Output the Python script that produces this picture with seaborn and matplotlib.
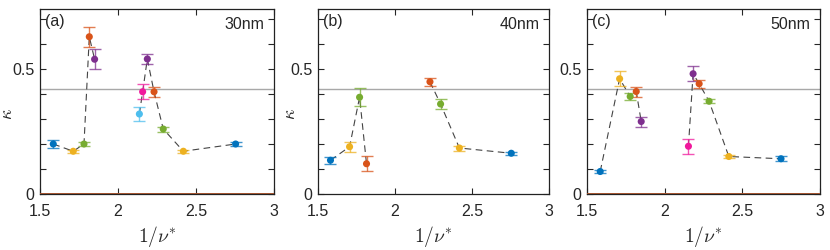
import numpy as np
import pandas as pd
import matplotlib
matplotlib.use("Agg")
import matplotlib.pyplot as plt
import seaborn as sns

# panel (a) 30nm
x_a = [1.585, 1.713, 1.782, 1.816, 1.85, 2.137, 2.158, 2.188, 2.231, 2.29, 2.419, 2.754]
k_a = [0.20, 0.171, 0.20, 0.629, 0.539, 0.32, 0.409, 0.54, 0.409, 0.26, 0.171, 0.20]
e_a = [0.015, 0.007, 0.007, 0.04, 0.04, 0.03, 0.03, 0.02, 0.02, 0.01, 0.007, 0.008]
cat_a = ["s1", "s3", "s5", "s2", "s4", "s6", "s7", "s4", "s2", "s5", "s3", "s1"]
grp_a = [0, 0, 0, 0, 0, 1, 1, 1, 1, 1, 1, 1]

# panel (b) 40nm
x_b = [1.581, 1.705, 1.77, 1.815, 2.227, 2.296, 2.418, 2.755]
k_b = [0.135, 0.189, 0.387, 0.121, 0.449, 0.36, 0.184, 0.163]
e_b = [0.015, 0.02, 0.035, 0.03, 0.015, 0.02, 0.01, 0.006]
cat_b = ["s1", "s3", "s5", "s2", "s2", "s5", "s3", "s1"]
grp_b = [0, 0, 0, 0, 1, 1, 1, 1]

# panel (c) 50nm
x_c = [1.585, 1.71, 1.778, 1.817, 1.849, 2.153, 2.183, 2.222, 2.286, 2.413, 2.749]
k_c = [0.09, 0.461, 0.39, 0.41, 0.29, 0.191, 0.481, 0.441, 0.371, 0.15, 0.141]
e_c = [0.006, 0.03, 0.015, 0.02, 0.02, 0.03, 0.03, 0.015, 0.008, 0.006, 0.01]
cat_c = ["s1", "s3", "s5", "s2", "s4", "s7", "s4", "s2", "s5", "s3", "s1"]
grp_c = [0, 0, 0, 0, 0, 1, 1, 1, 1, 1, 1]

kappa_ref = 0.42
panel_tags = ["(a)", "(b)", "(c)"]
thickness = ["30nm", "40nm", "50nm"]

palette = {
    "s1": "#0072BD",
    "s2": "#D95319",
    "s3": "#EDB120",
    "s4": "#7E2F8E",
    "s5": "#77AC30",
    "s6": "#4DBEEE",
    "s7": "#F0189C",
}

sns.set_style("ticks")
plt.rcParams["font.family"] = ["Liberation Sans", "DejaVu Sans"]
plt.rcParams["mathtext.fontset"] = "cm"

fig = plt.figure(figsize=(8.3, 2.5), dpi=100)
boxes = [
    [40 / 830, 56 / 250, 234 / 830, 185 / 250],
    [318 / 830, 56 / 250, 231 / 830, 185 / 250],
    [587 / 830, 56 / 250, 233 / 830, 185 / 250],
]
ylabel_x = [-24 / 234, -19 / 231, None]
panels = [
    (x_a, k_a, e_a, cat_a, grp_a),
    (x_b, k_b, e_b, cat_b, grp_b),
    (x_c, k_c, e_c, cat_c, grp_c),
]

for i, (xs, ks, es, cats, grps) in enumerate(panels):
    ax = fig.add_axes(boxes[i])
    df = pd.DataFrame({"x": xs, "k": ks, "err": es, "cat": cats, "grp": grps})

    ax.axhline(kappa_ref, color="#a8a8a8", lw=1.0, zorder=1)
    if i != 1:
        ax.axhline(0, color="#a0522d", lw=1.4, zorder=3)

    for g, sub in df.groupby("grp"):
        ax.plot(sub["x"], sub["k"], ls=(0, (6, 4)), color="#444444",
                lw=0.8, zorder=2)

    for _, row in df.iterrows():
        ax.errorbar(row["x"], row["k"], yerr=row["err"], fmt="none",
                    ecolor=palette[row["cat"]], alpha=0.75, elinewidth=1.0,
                    capsize=4, capthick=1.0, zorder=3)

    sns.scatterplot(data=df, x="x", y="k", hue="cat", palette=palette,
                    s=26, edgecolor="none", legend=False, ax=ax, zorder=4)

    ax.set_xlim(1.5, 3)
    ax.set_ylim(0, 0.74)
    ax.set_xticks([1.5, 2, 2.5, 3])
    ax.set_xticklabels(["1.5", "2", "2.5", "3"])
    ax.set_yticks(np.arange(0, 0.75, 0.1))
    ax.set_yticklabels(["0", "", "", "", "", "0.5", "", ""])
    ax.tick_params(direction="in", top=True, right=True, length=4,
                   width=0.8, labelsize=11.5)
    ax.tick_params(axis="x", pad=7)
    ax.tick_params(axis="y", pad=4)
    for sp in ax.spines.values():
        sp.set_visible(True)
        sp.set_linewidth(0.9)
        sp.set_color("#222222")

    ax.set_xlabel(r"$1/\nu^{*}$", fontsize=14, labelpad=4)
    if ylabel_x[i] is not None:
        ax.set_ylabel(r"$\kappa$", fontsize=13)
        ax.yaxis.set_label_coords(ylabel_x[i], 0.43)
    else:
        ax.set_ylabel("")

    ax.text(0.02, 0.975, panel_tags[i], transform=ax.transAxes,
            ha="left", va="top", fontsize=11.5)
    ax.text(0.96, 0.955, thickness[i], transform=ax.transAxes,
            ha="right", va="top", fontsize=11.5)

fig.savefig("out.png", dpi=100)
